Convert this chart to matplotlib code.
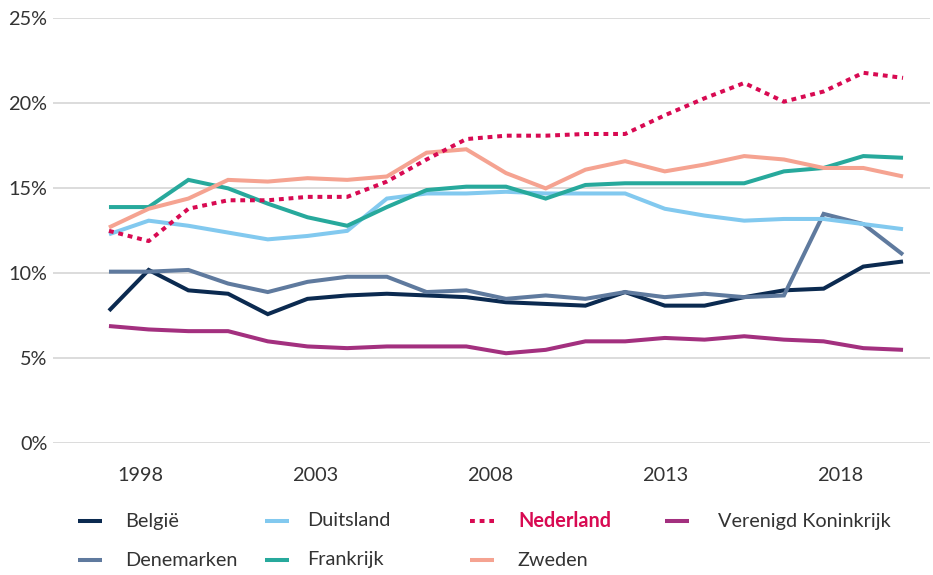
import matplotlib
matplotlib.use('Agg')
import matplotlib.pyplot as plt
from matplotlib.lines import Line2D

# data (aandeel per land, 21 meetpunten)
landen = ['België', 'Denemarken', 'Duitsland', 'Frankrijk', 'Nederland', 'Zweden', 'Verenigd Koninkrijk']
belgie = [7.8, 10.2, 9.0, 8.8, 7.6, 8.5, 8.7, 8.8, 8.7, 8.6, 8.3, 8.2, 8.1, 8.9, 8.1, 8.1, 8.6, 9.0, 9.1, 10.4, 10.7]
denemarken = [10.1, 10.1, 10.2, 9.4, 8.9, 9.5, 9.8, 9.8, 8.9, 9.0, 8.5, 8.7, 8.5, 8.9, 8.6, 8.8, 8.6, 8.7, 13.5, 12.9, 11.1]
duitsland = [12.3, 13.1, 12.8, 12.4, 12.0, 12.2, 12.5, 14.4, 14.7, 14.7, 14.8, 14.7, 14.7, 14.7, 13.8, 13.4, 13.1, 13.2, 13.2, 12.9, 12.6]
frankrijk = [13.9, 13.9, 15.5, 15.0, 14.1, 13.3, 12.8, 13.9, 14.9, 15.1, 15.1, 14.4, 15.2, 15.3, 15.3, 15.3, 15.3, 16.0, 16.2, 16.9, 16.8]
nederland = [12.5, 11.9, 13.8, 14.3, 14.3, 14.5, 14.5, 15.4, 16.7, 17.9, 18.1, 18.1, 18.2, 18.2, 19.3, 20.3, 21.2, 20.1, 20.7, 21.8, 21.5]
zweden = [12.7, 13.8, 14.4, 15.5, 15.4, 15.6, 15.5, 15.7, 17.1, 17.3, 15.9, 15.0, 16.1, 16.6, 16.0, 16.4, 16.9, 16.7, 16.2, 16.2, 15.7]
vk = [6.9, 6.7, 6.6, 6.6, 6.0, 5.7, 5.6, 5.7, 5.7, 5.7, 5.3, 5.5, 6.0, 6.0, 6.2, 6.1, 6.3, 6.1, 6.0, 5.6, 5.5]
jaar_labels = ['1998', '2003', '2008', '2013', '2018']
y_ticks = [0, 5, 10, 15, 20, 25]

reeksen = [belgie, denemarken, duitsland, frankrijk, nederland, zweden, vk]
kleuren = ['#0b2a50', '#5f7a9e', '#82c9ef', '#27a99c', '#d80a52', '#f5a391', '#a3307f']

plt.rcParams['font.family'] = ['Lato', 'DejaVu Sans']
tekst_kleur = '#333333'
fs = 14.3

fig = plt.figure(figsize=(9.33, 5.75), dpi=100)
ax = fig.add_axes([0.0568, 0.229, 0.94, 0.739])

x = list(range(len(belgie)))
for naam, waarden, kleur in zip(landen, reeksen, kleuren):
    if naam == 'Nederland':
        ax.plot(x, waarden, color=kleur, lw=2.9, linestyle=(0, (1.2, 1.2)),
                dash_capstyle='butt', zorder=3)
    else:
        ax.plot(x, waarden, color=kleur, lw=2.9, solid_capstyle='butt',
                solid_joinstyle='miter', zorder=2)

ax.set_ylim(0, 25)
ax.set_xlim(-1.41, 20.68)
ax.set_yticks(y_ticks)
ax.set_yticklabels([f'{v}%' for v in y_ticks])
# jaarlabels staan los van de meetpunten (175 px uit elkaar)
ax.set_xticks([0.78 + 4.41 * i for i in range(len(jaar_labels))])
ax.set_xticklabels(jaar_labels)
ax.tick_params(axis='both', length=0, labelsize=fs, colors=tekst_kleur)
ax.tick_params(axis='y', pad=4)
ax.tick_params(axis='x', pad=17)
ax.grid(axis='y', color='#d6d6d6', lw=1.2)
ax.set_axisbelow(True)
for s in ax.spines.values():
    s.set_visible(False)

# legenda handmatig in twee rijen
leg_volgorde = ['België', 'Duitsland', 'Nederland', 'Verenigd Koninkrijk',
                'Denemarken', 'Frankrijk', 'Zweden']
kol_x = [78, 265, 470, 665]
tekst_x = [125, 307, 518, 718]
rij_y = [521, 560]
W, H = 933, 575
for i, naam in enumerate(leg_volgorde):
    r, c = divmod(i, 4)
    kleur = kleuren[landen.index(naam)]
    yy = 1 - rij_y[r] / H
    x0 = kol_x[c] / W
    x1 = (kol_x[c] + 24) / W
    if naam == 'Nederland':
        ln = Line2D([x0, x1], [yy, yy], transform=fig.transFigure, color=kleur,
                    lw=2.9, linestyle=(0, (1.2, 1.2)), dash_capstyle='butt')
        fig.text(tekst_x[c] / W, yy, naam, color=kleur, fontsize=fs,
                 fontweight='bold', va='center', ha='left')
    else:
        ln = Line2D([x0, x1], [yy, yy], transform=fig.transFigure, color=kleur,
                    lw=2.9, solid_capstyle='butt')
        fig.text(tekst_x[c] / W, yy, naam, color=tekst_kleur, fontsize=fs,
                 va='center', ha='left')
    fig.add_artist(ln)

fig.savefig('out.png', dpi=100)
